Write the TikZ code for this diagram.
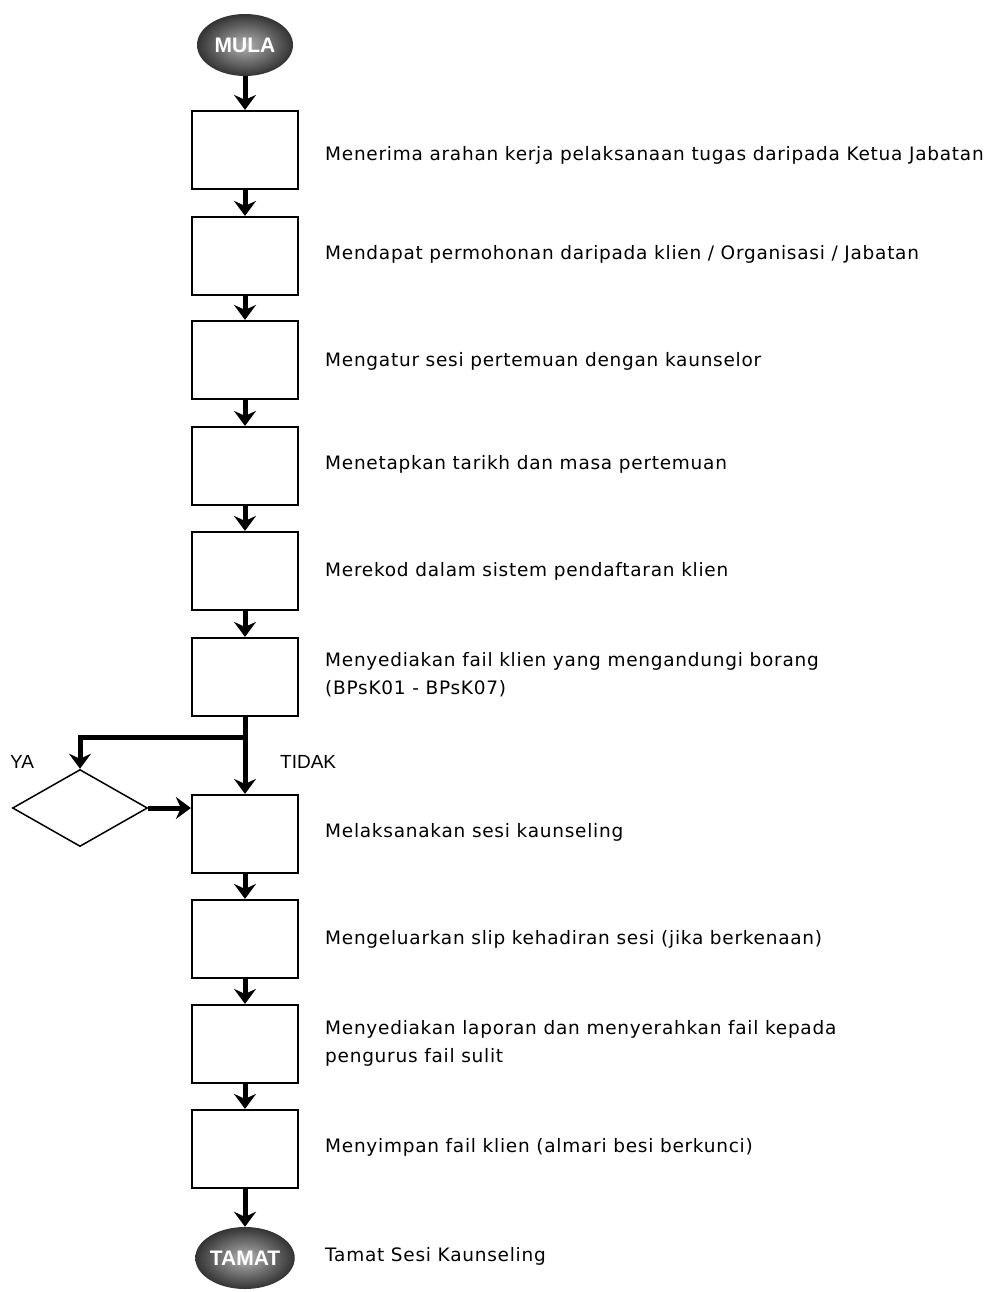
\documentclass[tikz,border=0pt]{standalone}
\usepackage{fontspec}
\setmainfont[LetterSpace=4]{DejaVu Sans}
\newfontfamily\arialf{Liberation Sans}
\usetikzlibrary{arrows.meta,shapes.geometric}
\begin{document}
\begin{tikzpicture}[x=1pt,y=-1pt,
  stepbox/.style={draw,line width=2.2pt,minimum width=106pt,minimum height=78pt,inner sep=0pt},
  term/.style={ellipse,minimum width=96pt,minimum height=62pt,inner sep=0pt,
     shading=radial,inner color=gray!60,outer color=black!80,
     font=\arialf\bfseries\fontsize{21}{21}\selectfont,text=white},
  desc/.style={anchor=west,align=left,font=\fontsize{18.5}{28}\selectfont,inner sep=0pt},
  flow/.style={line width=5pt,line join=miter,-{Stealth[width=22pt,length=15pt,inset=5pt]}},
  lbl/.style={font=\arialf\fontsize{19}{19}\selectfont,inner sep=0pt}]
\useasboundingbox (0,0) rectangle (993,1292);
\node[term] (mula) at (245,45) {MULA};
\node[stepbox] (b1) at (245,150) {};
\node[stepbox] (b2) at (245,256) {};
\node[stepbox] (b3) at (245,360) {};
\node[stepbox] (b4) at (245,466) {};
\node[stepbox] (b5) at (245,571) {};
\node[stepbox] (b6) at (245,677) {};
\node[stepbox] (b7) at (245,834) {};
\node[stepbox] (b8) at (245,939) {};
\node[stepbox] (b9) at (245,1044) {};
\node[stepbox] (b10) at (245,1149) {};
\node[term] (tamat) at (245,1258) {TAMAT};
\node[diamond,draw,line width=1.5pt,aspect=1.75,minimum width=135pt,minimum height=77pt,inner sep=0pt] (dec) at (80,808) {};
\draw[flow] (mula) -- (b1);
\draw[flow] (b1) -- (b2);
\draw[flow] (b2) -- (b3);
\draw[flow] (b3) -- (b4);
\draw[flow] (b4) -- (b5);
\draw[flow] (b5) -- (b6);
\draw[flow] (b6) -- (b7);
\coordinate (split) at (245,737);
\coordinate (corner) at (80,737);
\draw[flow] (b6.south) -- (split) -- (corner) -- (dec.north);
\draw[flow] (dec.east) -- (dec.east -| b7.west);
\draw[flow] (b7) -- (b8);
\draw[flow] (b8) -- (b9);
\draw[flow] (b9) -- (b10);
\draw[flow] (b10) -- (tamat);
\node[lbl] (ya) at (22,762) {YA};
\node[lbl,anchor=west] (tidak) at (280,762) {TIDAK};
\node[desc] (t1) at (325,155) {Menerima arahan kerja pelaksanaan tugas daripada Ketua Jabatan};
\node[desc] (t2) at (325,254) {Mendapat permohonan daripada klien / Organisasi / Jabatan};
\node[desc] (t3) at (325,361) {Mengatur sesi pertemuan dengan kaunselor};
\node[desc] (t4) at (325,464) {Menetapkan tarikh dan masa pertemuan};
\node[desc] (t5) at (325,571) {Merekod dalam sistem pendaftaran klien};
\node[desc] (t6) at (325,675) {Menyediakan fail klien yang mengandungi borang\\(BPsK01 - BPsK07)};
\node[desc] (t7) at (325,832) {Melaksanakan sesi kaunseling};
\node[desc] (t8) at (325,939) {Mengeluarkan slip kehadiran sesi (jika berkenaan)};
\node[desc] (t9) at (325,1043) {Menyediakan laporan dan menyerahkan fail kepada\\pengurus fail sulit};
\node[desc] (t10) at (325,1147) {Menyimpan fail klien (almari besi berkunci)};
\node[desc] (t11) at (325,1256) {Tamat Sesi Kaunseling};
\end{tikzpicture}
\end{document}
